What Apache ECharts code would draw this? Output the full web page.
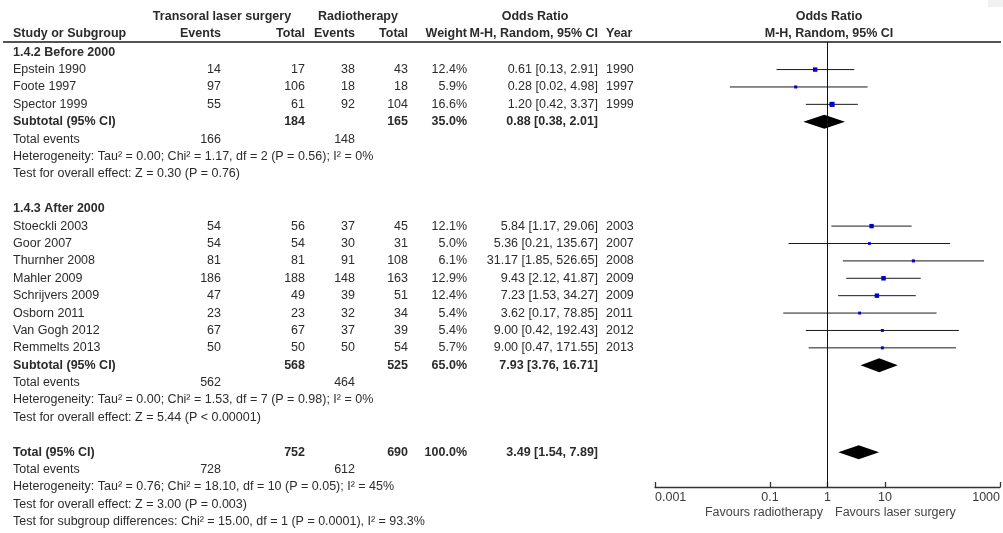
<!DOCTYPE html>
<html>
<head>
<meta charset="utf-8">
<title>Transoral laser surgery vs radiotherapy – odds ratio forest plot</title>
<script src="https://cdn.jsdelivr.net/npm/echarts/dist/echarts.min.js"></script>
<style>
  html, body { margin: 0; padding: 0; background: #fff; }
  #chart { width: 1003px; height: 533px; }
</style>
</head>
<body>
<div id="chart"></div>
<script>
// ---------- Subgroup 1.4.2: before 2000 ----------
const groupTitles = ['1.4.2 Before 2000', '1.4.3 After 2000'];

const studiesA = ['Epstein 1990', 'Foote 1997', 'Spector 1999'];
const laserEventsA = [14, 97, 55];
const laserTotalA = [17, 106, 61];
const radioEventsA = [38, 18, 92];
const radioTotalA = [43, 18, 104];
const weightA = [12.4, 5.9, 16.6];
const orA = [0.61, 0.28, 1.20];
const lowA = [0.13, 0.02, 0.42];
const highA = [2.91, 4.98, 3.37];
const yearA = [1990, 1997, 1999];

// ---------- Subgroup 1.4.3: after 2000 ----------
const studiesB = ['Stoeckli 2003', 'Goor 2007', 'Thurnher 2008', 'Mahler 2009',
                  'Schrijvers 2009', 'Osborn 2011', 'Van Gogh 2012', 'Remmelts 2013'];
const laserEventsB = [54, 54, 81, 186, 47, 23, 67, 50];
const laserTotalB = [56, 54, 81, 188, 49, 23, 67, 50];
const radioEventsB = [37, 30, 91, 148, 39, 32, 37, 50];
const radioTotalB = [45, 31, 108, 163, 51, 34, 39, 54];
const weightB = [12.1, 5.0, 6.1, 12.9, 12.4, 5.4, 5.4, 5.7];
const orB = [5.84, 5.36, 31.17, 9.43, 7.23, 3.62, 9.00, 9.00];
const lowB = [1.17, 0.21, 1.85, 2.12, 1.53, 0.17, 0.42, 0.47];
const highB = [29.06, 135.67, 526.65, 41.87, 34.27, 78.85, 192.43, 171.55];
const yearB = [2003, 2007, 2008, 2009, 2009, 2011, 2012, 2013];

// ---------- Subtotals (one entry per subgroup) ----------
const subLaserTotal = [184, 568];
const subRadioTotal = [165, 525];
const subWeight = [35.0, 65.0];
const subOr = [0.88, 7.93];
const subLow = [0.38, 3.76];
const subHigh = [2.01, 16.71];
const subLaserEvents = [166, 562];
const subRadioEvents = [148, 464];
const subHetero = [
  'Heterogeneity: Tau\u00b2 = 0.00; Chi\u00b2 = 1.17, df = 2 (P = 0.56); I\u00b2 = 0%',
  'Heterogeneity: Tau\u00b2 = 0.00; Chi\u00b2 = 1.53, df = 7 (P = 0.98); I\u00b2 = 0%'
];
const subEffect = [
  'Test for overall effect: Z = 0.30 (P = 0.76)',
  'Test for overall effect: Z = 5.44 (P < 0.00001)'
];

// ---------- Overall pooled result ----------
const totalLaser = [752];
const totalRadio = [690];
const totalWeight = [100.0];
const totalOr = [3.49];
const totalLow = [1.54];
const totalHigh = [7.89];
const totalLaserEvents = [728];
const totalRadioEvents = [612];
const totalHetero = ['Heterogeneity: Tau\u00b2 = 0.76; Chi\u00b2 = 18.10, df = 10 (P = 0.05); I\u00b2 = 45%'];
const totalEffect = ['Test for overall effect: Z = 3.00 (P = 0.003)'];
const subgroupDiff = ['Test for subgroup differences: Chi\u00b2 = 15.00, df = 1 (P = 0.0001), I\u00b2 = 93.3%'];

// ---------- Odds-ratio axis ----------
const tickValues = [0.001, 0.1, 1, 10, 1000];
const tickLabels = ['0.001', '0.1', '1', '10', '1000'];
const favourLeft = 'Favours radiotherapy';
const favourRight = 'Favours laser surgery';

// ---------- Layout ----------
const FONT = "'Liberation Sans', Arial, Helvetica, sans-serif";
const FS = 12.5;
const INK = '#2b2b2b';
const COL = { name: 13, le: 221, lt: 305, re: 355, rt: 408, w: 467, ci: 598, year: 606, forest: 829 };

const fmt2 = v => v.toFixed(2);
const ciText = (o, l, h) => `${fmt2(o)} [${fmt2(l)}, ${fmt2(h)}]`;
const pct = w => w.toFixed(1) + '%';

// table cells: x in pixel columns, row index on the shared row axis
const cells = [];
function cell(x, row, text, align, bold) {
  cells.push({ x, row, text: String(text), align: align || 'right', bold: !!bold });
}
const studyMarks = [];
const diamonds = [];

// header
const H1 = -3.05, H2 = -2.08;
cell(222, H1, 'Transoral laser surgery', 'center', true);
cell(358, H1, 'Radiotherapy', 'center', true);
cell(535, H1, 'Odds Ratio', 'center', true);
cell(COL.forest, H1, 'Odds Ratio', 'center', true);
cell(COL.name, H2, 'Study or Subgroup', 'left', true);
cell(COL.le, H2, 'Events', 'right', true);
cell(COL.lt, H2, 'Total', 'right', true);
cell(COL.re, H2, 'Events', 'right', true);
cell(COL.rt, H2, 'Total', 'right', true);
cell(COL.w, H2, 'Weight', 'right', true);
cell(COL.ci, H2, 'M-H, Random, 95% CI', 'right', true);
cell(COL.year, H2, 'Year', 'left', true);
cell(COL.forest, H2, 'M-H, Random, 95% CI', 'center', true);

const groups = [
  { names: studiesA, le: laserEventsA, lt: laserTotalA, re: radioEventsA, rt: radioTotalA,
    w: weightA, or: orA, lo: lowA, hi: highA, yr: yearA },
  { names: studiesB, le: laserEventsB, lt: laserTotalB, re: radioEventsB, rt: radioTotalB,
    w: weightB, or: orB, lo: lowB, hi: highB, yr: yearB }
];

let row = -1;
groups.forEach((g, gi) => {
  cell(COL.name, row, groupTitles[gi], 'left', true);
  row++;
  g.names.forEach((n, i) => {
    cell(COL.name, row, n, 'left');
    cell(COL.le, row, g.le[i]);
    cell(COL.lt, row, g.lt[i]);
    cell(COL.re, row, g.re[i]);
    cell(COL.rt, row, g.rt[i]);
    cell(COL.w, row, pct(g.w[i]));
    cell(COL.ci, row, ciText(g.or[i], g.lo[i], g.hi[i]));
    cell(COL.year, row, g.yr[i], 'left');
    studyMarks.push([Math.log10(g.or[i]), row, Math.log10(g.lo[i]), Math.log10(g.hi[i]), g.w[i]]);
    row++;
  });
  cell(COL.name, row, 'Subtotal (95% CI)', 'left', true);
  cell(COL.lt, row, subLaserTotal[gi], 'right', true);
  cell(COL.rt, row, subRadioTotal[gi], 'right', true);
  cell(COL.w, row, pct(subWeight[gi]), 'right', true);
  cell(COL.ci, row, ciText(subOr[gi], subLow[gi], subHigh[gi]), 'right', true);
  diamonds.push([Math.log10(subOr[gi]), row, Math.log10(subLow[gi]), Math.log10(subHigh[gi])]);
  row++;
  cell(COL.name, row, 'Total events', 'left');
  cell(COL.le, row, subLaserEvents[gi]);
  cell(COL.re, row, subRadioEvents[gi]);
  row++;
  cell(COL.name, row, subHetero[gi], 'left');
  row++;
  cell(COL.name, row, subEffect[gi], 'left');
  row += 2;
});

cell(COL.name, row, 'Total (95% CI)', 'left', true);
cell(COL.lt, row, totalLaser[0], 'right', true);
cell(COL.rt, row, totalRadio[0], 'right', true);
cell(COL.w, row, pct(totalWeight[0]), 'right', true);
cell(COL.ci, row, ciText(totalOr[0], totalLow[0], totalHigh[0]), 'right', true);
diamonds.push([Math.log10(totalOr[0]), row, Math.log10(totalLow[0]), Math.log10(totalHigh[0])]);
row++;
cell(COL.name, row, 'Total events', 'left');
cell(COL.le, row, totalLaserEvents[0]);
cell(COL.re, row, totalRadioEvents[0]);
row++;
cell(COL.name, row, totalHetero[0], 'left');
row++;
cell(COL.name, row, totalEffect[0], 'left');
row++;
cell(COL.name, row, subgroupDiff[0], 'left');

// shared row scale: both grids start at row -4 at the top edge
const ROW_MIN = -4, FOREST_MAX = 24, TABLE_MAX = 26;
const FOREST_H = 487;
const PITCH = FOREST_H / (FOREST_MAX - ROW_MIN);
const TABLE_H = PITCH * (TABLE_MAX - ROW_MIN);
const HEADER_ROW = -1.585;

const chart = echarts.init(document.getElementById('chart'), null, { renderer: 'canvas' });

chart.setOption({
  animation: false,
  backgroundColor: '#ffffff',
  grid: [
    { left: 0, top: 0, width: 640, height: TABLE_H },
    { left: 655, top: 0, width: 348, height: FOREST_H }
  ],
  xAxis: [
    { gridIndex: 0, type: 'value', min: 0, max: 640, show: false },
    {
      gridIndex: 1, type: 'value', min: -3, max: 3, position: 'bottom',
      axisLine: { show: true, onZero: false, lineStyle: { color: '#333', width: 1.3 } },
      axisTick: { show: true, inside: true, length: 5, customValues: tickValues.map(Math.log10),
                  lineStyle: { color: '#333', width: 1.3 } },
      axisLabel: {
        customValues: tickValues.map(Math.log10),
        formatter: v => {
          let best = 0;
          tickValues.forEach((t, i) => {
            if (Math.abs(Math.log10(t) - v) < Math.abs(Math.log10(tickValues[best]) - v)) best = i;
          });
          return tickLabels[best];
        },
        color: '#3a3a3a', fontFamily: FONT, fontSize: FS, margin: 4,
        alignMinLabel: 'left', alignMaxLabel: 'right', hideOverlap: false
      },
      splitLine: { show: false }
    }
  ],
  yAxis: [
    { gridIndex: 0, type: 'value', min: ROW_MIN, max: TABLE_MAX, inverse: true, show: false },
    { gridIndex: 1, type: 'value', min: ROW_MIN, max: FOREST_MAX, inverse: true, show: false }
  ],
  graphic: [
    { type: 'line', shape: { x1: 3, y1: 42, x2: 1001, y2: 42 }, style: { stroke: '#1a1a1a', lineWidth: 1.6 }, silent: true },
    { type: 'text', x: 823, y: 513, style: { text: favourLeft, align: 'right', verticalAlign: 'middle',
        fontFamily: FONT, fontSize: FS, fill: '#444' }, silent: true },
    { type: 'text', x: 835, y: 513, style: { text: favourRight, align: 'left', verticalAlign: 'middle',
        fontFamily: FONT, fontSize: FS, fill: '#444' }, silent: true },
    { type: 'rect', shape: { x: 988, y: 0, width: 15, height: 7 }, style: { fill: '#f1f1f1' }, silent: true }
  ],
  series: [
    {
      // table text
      type: 'custom', xAxisIndex: 0, yAxisIndex: 0, silent: true,
      data: cells.map((c, i) => [c.x, c.row, i]),
      renderItem: (params, api) => {
        const c = cells[api.value(2)];
        const p = api.coord([api.value(0), api.value(1)]);
        return {
          type: 'text', x: p[0], y: p[1],
          style: { text: c.text, align: c.align, verticalAlign: 'middle',
                   fontFamily: FONT, fontSize: FS, fontWeight: c.bold ? 'bold' : 'normal', fill: INK }
        };
      }
    },
    {
      // line of no effect (OR = 1)
      type: 'line', xAxisIndex: 1, yAxisIndex: 1, symbol: 'none', silent: true,
      data: [[Math.log10(1), HEADER_ROW], [Math.log10(1), FOREST_MAX]],
      lineStyle: { color: '#111', width: 1 }
    },
    {
      // study confidence intervals and weighted point estimates
      type: 'custom', xAxisIndex: 1, yAxisIndex: 1, silent: true,
      data: studyMarks,
      renderItem: (params, api) => {
        const r = api.value(1);
        const c = api.coord([api.value(0), r]);
        const a = api.coord([api.value(2), r]);
        const b = api.coord([api.value(3), r]);
        const s = 1.25 * Math.sqrt(api.value(4));
        return {
          type: 'group',
          children: [
            { type: 'line', shape: { x1: a[0], y1: c[1], x2: b[0], y2: c[1] }, style: { stroke: '#1a1a1a', lineWidth: 1 } },
            { type: 'rect', shape: { x: c[0] - s / 2, y: c[1] - s / 2, width: s, height: s }, style: { fill: '#0000c8' } }
          ]
        };
      }
    },
    {
      // pooled estimates
      type: 'custom', xAxisIndex: 1, yAxisIndex: 1, silent: true,
      data: diamonds,
      renderItem: (params, api) => {
        const r = api.value(1);
        const c = api.coord([api.value(0), r]);
        const a = api.coord([api.value(2), r]);
        const b = api.coord([api.value(3), r]);
        const h = 7;
        return {
          type: 'polygon',
          shape: { points: [[a[0], c[1]], [c[0], c[1] - h], [b[0], c[1]], [c[0], c[1] + h]] },
          style: { fill: '#000' }
        };
      }
    }
  ]
});
</script>
</body>
</html>
